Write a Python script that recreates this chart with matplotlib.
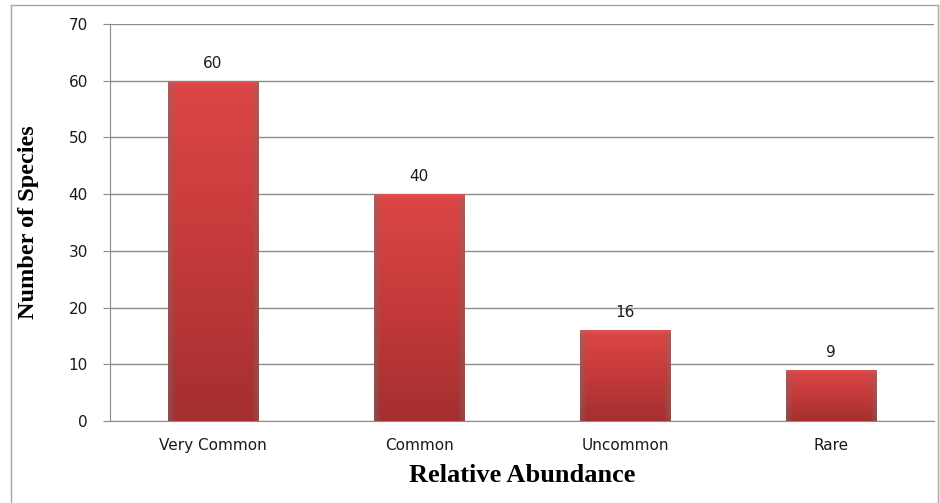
import matplotlib

matplotlib.use("Agg")
import matplotlib.pyplot as plt
import numpy as np
from matplotlib.colors import LinearSegmentedColormap
from matplotlib.lines import Line2D

categories = ["Very Common", "Common", "Uncommon", "Rare"]
species = [60, 40, 16, 9]
y_ticks = [0, 10, 20, 30, 40, 50, 60, 70]

plt.rcParams["font.family"] = ["DejaVu Sans"]
GRID = "#8c8c8c"
INK = "#1a1a1a"
bar_cmap = LinearSegmentedColormap.from_list("bar", ["#a52f2f", "#c43a3a", "#dc4646"])

W, H = 940, 503
fig = plt.figure(figsize=(W / 100, H / 100), dpi=100)
fig.patch.set_facecolor("white")
ax = fig.add_axes([110 / W, 1 - 421 / H, 824 / W, (421 - 24) / H])

xs = np.arange(len(categories))
width = 0.44
bars = ax.bar(xs, species, width=width, color="none", edgecolor="none", zorder=3)

# vertical + horizontal shading to mimic the bevelled Excel bars
grad_v = np.linspace(0, 1, 100).reshape(-1, 1)
grad_h = np.linspace(0, 1, 60).reshape(1, -1)
for b in bars:
    x0, w, h = b.get_x(), b.get_width(), b.get_height()
    im = ax.imshow(grad_v, cmap=bar_cmap, origin="lower", aspect="auto",
                   extent=(x0, x0 + w, 0, h), zorder=3)
    im.set_clip_path(b)
    side = np.ones((1, 60, 4))
    side[..., :3] = 0.45
    edge = np.abs(grad_h - 0.5) * 2
    side[..., 3] = np.clip((edge - 0.85) / 0.15, 0, 1) * 0.45
    im2 = ax.imshow(side, origin="lower", aspect="auto",
                    extent=(x0, x0 + w, 0, h), zorder=4)
    im2.set_clip_path(b)
    top = np.ones((20, 1, 4))
    top[..., :3] = [0.95, 0.45, 0.45]
    top[..., 3] = np.linspace(0, 0.6, 20).reshape(-1, 1) ** 2
    cap = min(1.2, h * 0.1)
    im3 = ax.imshow(top, origin="lower", aspect="auto",
                    extent=(x0, x0 + w, h - cap, h), zorder=5)
    im3.set_clip_path(b)
    ax.text(b.get_x() + w / 2, h + 1.8, f"{h:g}", ha="center", va="bottom",
            fontsize=11, color=INK, zorder=6)

ax.set_xlim(-0.5, len(categories) - 0.5)
ax.set_ylim(0, 70)
ax.set_yticks(y_ticks)
ax.set_xticks(xs, categories)
ax.tick_params(axis="y", length=5, color=GRID, labelsize=11, labelcolor=INK, pad=11)
ax.tick_params(axis="x", length=0, labelsize=11, labelcolor=INK, pad=12)
ax.grid(axis="y", color=GRID, linewidth=1, zorder=0)
ax.set_axisbelow(True)
for s in ("top", "right"):
    ax.spines[s].set_visible(False)
ax.spines["left"].set_color(GRID)
ax.spines["bottom"].set_color(GRID)

ax.set_ylabel("Number of Species", family="Liberation Serif", fontweight="bold",
              fontsize=17.5, color="black", labelpad=21)
ax.set_xlabel("Relative Abundance", family="Liberation Serif", fontweight="bold",
              fontsize=19, color="black", labelpad=8)

# outer chart frame, bottom edge runs off the image
fx0, fx1, fy = 11 / W, 938 / W, 1 - 5 / H
for xd, yd in (([fx0, fx0], [0, fy]), ([fx0, fx1], [fy, fy]), ([fx1, fx1], [fy, 0])):
    fig.add_artist(Line2D(xd, yd, transform=fig.transFigure, color="#a6a6a6", linewidth=1))

fig.savefig("out.png", dpi=100)
